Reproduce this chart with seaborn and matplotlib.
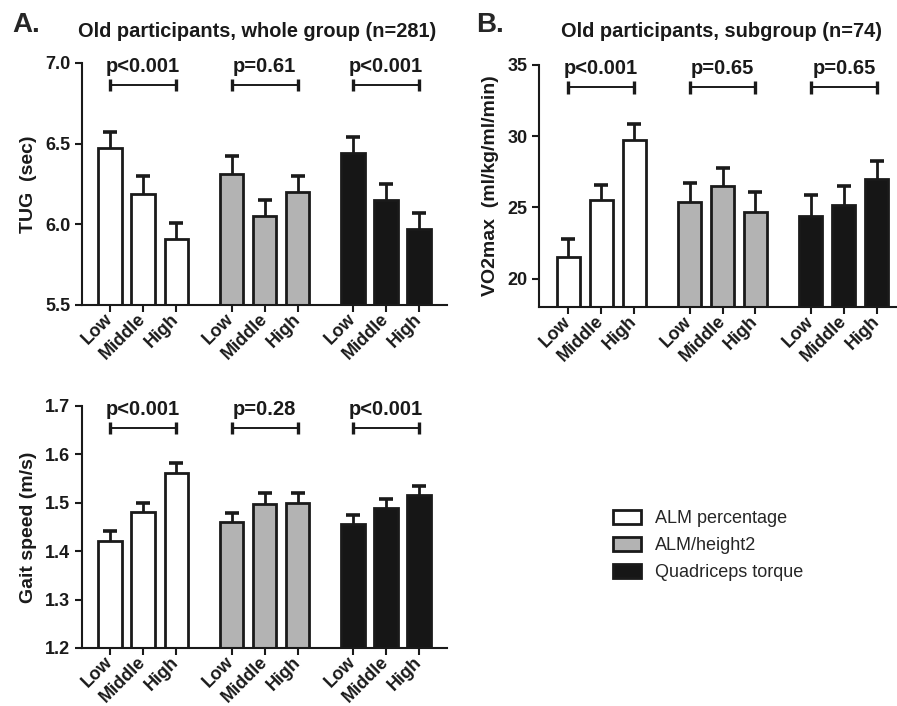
import numpy as np
import pandas as pd
import matplotlib
matplotlib.use("Agg")
import matplotlib.pyplot as plt
import matplotlib.transforms as mtransforms
from matplotlib.patches import Patch
import seaborn as sns

# ---- data ----
MEASURES = ["ALM percentage", "ALM/height2", "Quadriceps torque"]
LEVELS = ["Low", "Middle", "High"]

tug_mean = [6.47, 6.19, 5.91, 6.31, 6.05, 6.20, 6.44, 6.15, 5.97]
tug_sem = [0.10, 0.11, 0.10, 0.11, 0.10, 0.10, 0.10, 0.10, 0.10]
tug_p = ["p<0.001", "p=0.61", "p<0.001"]

vo2_mean = [21.5, 25.5, 29.7, 25.4, 26.5, 24.7, 24.4, 25.2, 27.0]
vo2_sem = [1.25, 1.10, 1.15, 1.30, 1.30, 1.40, 1.45, 1.30, 1.25]
vo2_p = ["p<0.001", "p=0.65", "p=0.65"]

gait_mean = [1.421, 1.481, 1.562, 1.460, 1.498, 1.500, 1.456, 1.489, 1.516]
gait_sem = [0.021, 0.019, 0.020, 0.019, 0.021, 0.020, 0.019, 0.019, 0.019]
gait_p = ["p<0.001", "p=0.28", "p<0.001"]

PALETTE = {"ALM percentage": "#ffffff", "ALM/height2": "#b3b3b3",
           "Quadriceps torque": "#161616"}
EDGE = "#1a1a1a"
GROUP_STEP = 3.68   # distance between first bars of neighbouring groups

sns.set_style("ticks")
plt.rcParams.update({
    "font.family": ["Liberation Sans", "DejaVu Sans"],
    "font.weight": "bold",
    "axes.linewidth": 1.5,
    "xtick.major.width": 1.5,
    "ytick.major.width": 1.5,
    "xtick.major.size": 5,
    "ytick.major.size": 5,
    "xtick.color": "#1a1a1a",
    "ytick.color": "#1a1a1a",
    "axes.edgecolor": "#1a1a1a",
})


def positions():
    return [g * GROUP_STEP + i for g in range(len(MEASURES)) for i in range(len(LEVELS))]


def bar_panel(ax, means, sems, pvals, ylim, yticks, ylabel, xlim, fmt):
    pos = positions()
    df = pd.DataFrame({
        "pos": pos,
        "value": means,
        "measure": [m for m in MEASURES for _ in LEVELS],
    })
    sns.barplot(data=df, x="pos", y="value", hue="measure", palette=PALETTE,
                native_scale=True, dodge=False, width=0.7, errorbar=None,
                edgecolor=EDGE, linewidth=2, legend=False, ax=ax, zorder=2)

    eb = ax.errorbar(pos, means, yerr=[np.zeros(len(sems)), sems], fmt="none",
                     ecolor=EDGE, elinewidth=2, capsize=4.7, capthick=2.6, zorder=1)
    eb[1][0].set_visible(False)

    # significance brackets
    trans = mtransforms.blended_transform_factory(ax.transData, ax.transAxes)
    for g, p in enumerate(pvals):
        x0, x1 = pos[g * 3], pos[g * 3 + 2]
        ax.plot([x0, x1], [0.907, 0.907], color=EDGE, lw=1.4, transform=trans, clip_on=False)
        ax.vlines([x0, x1], 0.882, 0.932, color=EDGE, lw=2.4, transform=trans, clip_on=False)
        ax.text((x0 + x1) / 2, 0.985, p, transform=trans, ha="center", va="center",
                fontsize=14.5, fontweight="bold", color="#1a1a1a")

    ax.set_xlim(*xlim)
    ax.set_ylim(*ylim)
    ax.set_yticks(yticks)
    ax.set_yticklabels([fmt.format(t) for t in yticks], fontsize=13, fontweight="bold")
    ax.set_xticks(pos)
    ax.set_xticklabels(LEVELS * 3, rotation=45, ha="right", va="center",
                       rotation_mode="anchor", fontsize=13, fontweight="bold")
    ax.set_xlabel("")
    ax.set_ylabel(ylabel, fontsize=14, fontweight="bold", color="#1a1a1a", labelpad=6)
    sns.despine(ax=ax)


fig = plt.figure(figsize=(8.97, 7.06), dpi=100)
ax_a = fig.add_axes([0.0914, 0.568, 0.407, 0.343])
ax_b = fig.add_axes([0.601, 0.565, 0.399, 0.343])
ax_c = fig.add_axes([0.0914, 0.0822, 0.407, 0.343])

bar_panel(ax_a, tug_mean, tug_sem, tug_p, (5.5, 7.0), [5.5, 6.0, 6.5, 7.0],
          "TUG  (sec)", (-0.85, 10.21), "{:.1f}")
bar_panel(ax_b, vo2_mean, vo2_sem, vo2_p, (18, 35), [20, 25, 30, 35],
          "VO2max  (ml/kg/ml/min)", (-0.88, 9.97), "{:d}")
bar_panel(ax_c, gait_mean, gait_sem, gait_p, (1.2, 1.7), [1.2, 1.3, 1.4, 1.5, 1.6, 1.7],
          "Gait speed (m/s)", (-0.85, 10.21), "{:.1f}")

fig.text(0.014, 0.965, "A.", fontsize=20, fontweight="bold", va="center", ha="left")
fig.text(0.531, 0.965, "B.", fontsize=20, fontweight="bold", va="center", ha="left")
fig.text(0.287, 0.955, "Old participants, whole group (n=281)", fontsize=14.4,
         fontweight="bold", ha="center", va="center", color="#1a1a1a")
fig.text(0.804, 0.955, "Old participants, subgroup (n=74)", fontsize=14.4,
         fontweight="bold", ha="center", va="center", color="#1a1a1a")

handles = [Patch(facecolor=PALETTE[m], edgecolor=EDGE, linewidth=2, label=m) for m in MEASURES]
fig.legend(handles=handles, loc="center left", bbox_to_anchor=(0.683, 0.227),
           frameon=False, borderpad=0, borderaxespad=0, handlelength=1.55,
           handleheight=0.78, handletextpad=0.8, labelspacing=0.55,
           prop={"size": 13, "weight": "normal"})

fig.savefig("out.png", dpi=100)
